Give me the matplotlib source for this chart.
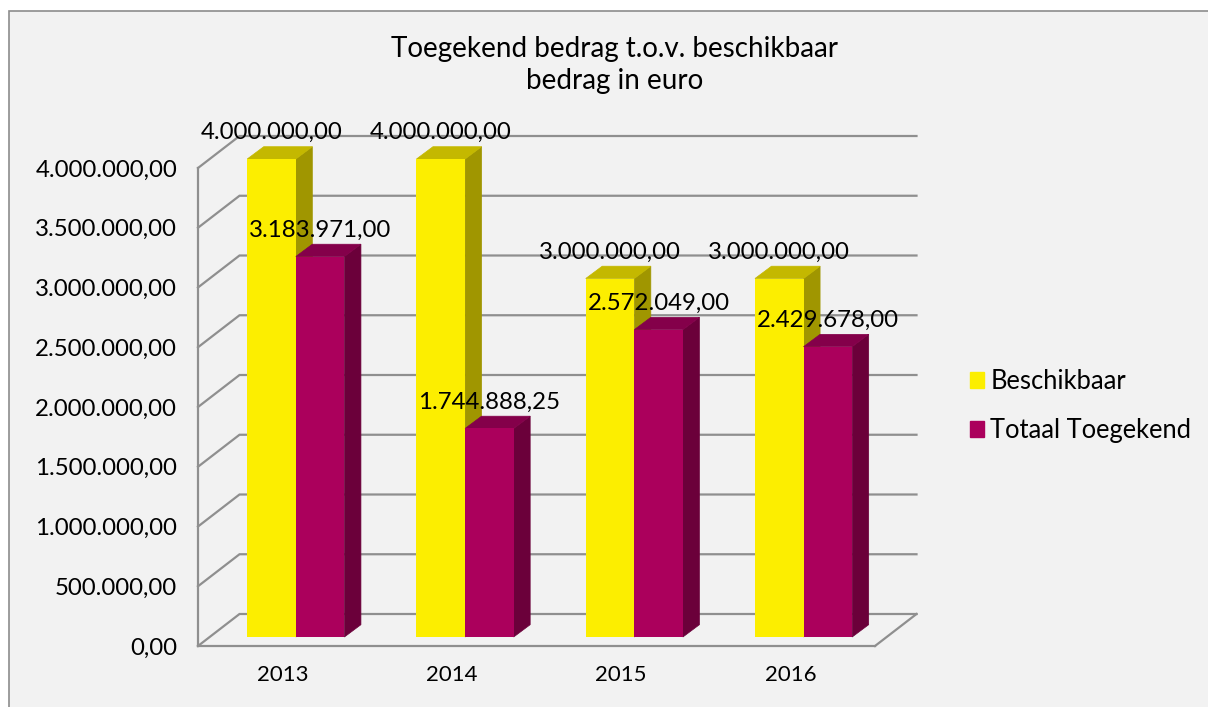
import matplotlib
matplotlib.use('Agg')
import matplotlib.pyplot as plt
from matplotlib.patches import Patch, Rectangle

years = ['2013', '2014', '2015', '2016']
beschikbaar = [4000000.00, 4000000.00, 3000000.00, 3000000.00]
toegekend = [3183971.00, 1744888.25, 2572049.00, 2429678.00]
y_ticks = [0, 500000, 1000000, 1500000, 2000000, 2500000, 3000000, 3500000, 4000000]

W, H = 1208, 707
plt.rcParams['font.family'] = 'Lato'


def nl(v):
    # dutch number format
    return f'{v:,.2f}'.replace(',', '#').replace('.', ',').replace('#', '.')


fig = plt.figure(figsize=(W / 100, H / 100), dpi=100, facecolor='white')
fig.add_artist(Rectangle((8.5 / W, -0.01), 1.1, 1.01 - 10.5 / H, transform=fig.transFigure,
                         facecolor='#f2f2f2', edgecolor='#8c8c8c', linewidth=1.2, zorder=-1))

# front plane of the fake 3D box, in pixels
left, right, top, bottom = 198, 875, 168, 646
ax = fig.add_axes([left / W, 1 - bottom / H, (right - left) / W, (bottom - top) / H])
ax.set_xlim(-0.5, 3.5)
ax.set_ylim(0, 4000000)
ax.patch.set_visible(False)

# data units per pixel
px = 4 / (right - left)
py = 4000000 / (bottom - top)

grid = '#8f8f8f'
wall_x, wall_y = 41.5 * px, 32 * py
for t in y_ticks:
    ax.plot([-0.5, -0.5 + wall_x, 3.5 + wall_x], [t, t + wall_y, t + wall_y],
            color=grid, lw=1.6, clip_on=False, zorder=1, solid_joinstyle='miter')
ax.plot([3.5, 3.5 + wall_x], [0, wall_y], color=grid, lw=1.6, clip_on=False, zorder=1)

for s in ['top', 'right']:
    ax.spines[s].set_visible(False)
for s in ['left', 'bottom']:
    ax.spines[s].set_color(grid)
    ax.spines[s].set_linewidth(1.6)
    ax.spines[s].set_zorder(1)

width = 48.6 * px
front_x, front_y = 13.2 * px, 9 * py
side_x, side_y = 16.5 * px, 12.3 * py


def bar3d(x, v, front, side, roof, z):
    x0 = x + front_x
    x1 = x0 + width
    y0 = front_y
    y1 = v + front_y
    # side and roof first, the front goes over the seams
    ax.fill([x1, x1 + side_x, x1 + side_x, x1], [y0, y0 + side_y, y1 + side_y, y1],
            facecolor=side, edgecolor=side, linewidth=0.5, zorder=z, clip_on=False)
    ax.fill([x0, x1, x1 + side_x, x0 + side_x], [y1, y1, y1 + side_y, y1 + side_y],
            facecolor=roof, edgecolor=roof, linewidth=0.5, zorder=z, clip_on=False)
    ax.bar(x0, v, width, bottom=y0, align='edge', color=front, linewidth=0, zorder=z + 0.1, clip_on=False)
    ax.annotate(nl(v), (x0 + width / 2, y1), xytext=(0, 19), textcoords='offset points',
                ha='center', va='center', fontsize=17.3, color='black', zorder=5,
                annotation_clip=False)


for i in range(len(years)):
    bar3d(i - width, beschikbaar[i], '#fcee00', '#a09600', '#c4b800', 2)
    bar3d(i, toegekend[i], '#ab005c', '#6b003a', '#84004a', 3)

ax.set_xticks(range(len(years)), years)
ax.set_yticks(y_ticks, [nl(t) for t in y_ticks])
ax.tick_params(axis='x', length=0, pad=14, labelsize=16)
ax.tick_params(axis='y', length=0, pad=15, labelsize=17.3)

fig.text(614.5 / W, 1 - 65 / H, 'Toegekend bedrag t.o.v. beschikbaar\nbedrag in euro',
         ha='center', va='center', fontsize=20, linespacing=1.3)

handles = [Patch(color='#fcee00', label='Beschikbaar'),
           Patch(color='#ab005c', label='Totaal Toegekend')]
fig.legend(handles=handles, loc='center left', bbox_to_anchor=(970 / W, 1 - 406 / H),
           frameon=False, fontsize=18.4, handlelength=0.55, handleheight=0.55,
           handletextpad=0.25, labelspacing=0.94, borderpad=0, borderaxespad=0)

plt.savefig('out.png', dpi=100, facecolor=fig.get_facecolor())
